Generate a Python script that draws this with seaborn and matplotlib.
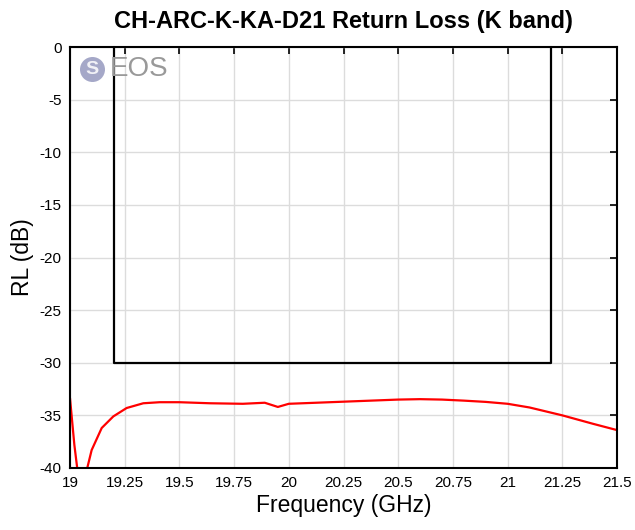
import numpy as np
import pandas as pd
import matplotlib
matplotlib.use('Agg')
import matplotlib.pyplot as plt
import seaborn as sns

# Return loss data
freq_ghz = [19.0, 19.02, 19.033, 19.05, 19.065, 19.079, 19.099, 19.145, 19.198, 19.259,
            19.335, 19.41, 19.50, 19.64, 19.79, 19.89, 19.95, 20.0, 20.25, 20.5,
            20.6, 20.7, 20.8, 20.9, 21.0, 21.1, 21.25, 21.39, 21.5]
rl_db = [-33.35, -37.8, -40.0, -41.5, -41.2, -40.0, -38.3, -36.2, -35.1, -34.3,
         -33.85, -33.75, -33.75, -33.85, -33.9, -33.8, -34.2, -33.9, -33.7, -33.5,
         -33.46, -33.5, -33.6, -33.72, -33.9, -34.25, -35.0, -35.8, -36.4]

# Spec mask
mask_freq = [19.2, 19.2, 21.2, 21.2]
mask_db = [0, -30, -30, 0]

x_ticks = [19, 19.25, 19.5, 19.75, 20, 20.25, 20.5, 20.75, 21, 21.25, 21.5]
x_labels = ['19', '19.25', '19.5', '19.75', '20', '20.25', '20.5', '20.75', '21', '21.25', '21.5']
y_ticks = [0, -5, -10, -15, -20, -25, -30, -35, -40]

sns.set_style('white')
plt.rcParams['font.family'] = ['Liberation Sans', 'DejaVu Sans']
plt.rcParams['axes.unicode_minus'] = False
plt.rcParams['text.color'] = 'black'
plt.rcParams['axes.labelcolor'] = 'black'

DPI = 100
fig = plt.figure(figsize=(6.35, 5.30), dpi=DPI)
ax = fig.add_axes([0.1102, 0.1170, 0.8615, 0.7943])

df = pd.DataFrame({'freq': freq_ghz, 'rl': rl_db})
sns.lineplot(data=df, x='freq', y='rl', color='#ff0000', linewidth=1.6, ax=ax, sort=False)
ax.plot(mask_freq, mask_db, color='black', linewidth=1.6, clip_on=False)

ax.set_xlim(19, 21.5)
ax.set_ylim(-40, 0)
ax.set_xticks(x_ticks)
ax.set_xticklabels(x_labels)
ax.set_yticks(y_ticks)
ax.grid(True, color='#dcdcdc', linewidth=1.0)
ax.set_axisbelow(True)
ax.tick_params(direction='in', length=5, width=1.2, top=True, right=True,
               labelsize=11, colors='black', pad=6)
for sp in ax.spines.values():
    sp.set_color('black')
    sp.set_linewidth(1.5)

ax.set_xlabel('Frequency (GHz)', fontsize=16.5, labelpad=3, color='black')
ax.set_ylabel('RL (dB)', fontsize=16.5, labelpad=4, color='black')
ax.set_title('CH-ARC-K-KA-D21 Return Loss (K band)', fontsize=17, fontweight='bold',
             pad=14, color='black')

# EOS watermark
ax.plot([0.040], [0.948], transform=ax.transAxes, marker='o', markersize=18,
        color='#a5a8c8', markeredgewidth=0, zorder=3, clip_on=False)
ax.text(0.040, 0.946, 'S', transform=ax.transAxes, fontsize=14, color='white', alpha=0.85,
        fontweight='bold', va='center', ha='center', zorder=4)
ax.text(0.072, 0.947, 'EOS', transform=ax.transAxes, fontsize=20, color='#999999',
        va='center', ha='left', zorder=3)

fig.savefig('out.png', dpi=DPI)
plt.close(fig)
